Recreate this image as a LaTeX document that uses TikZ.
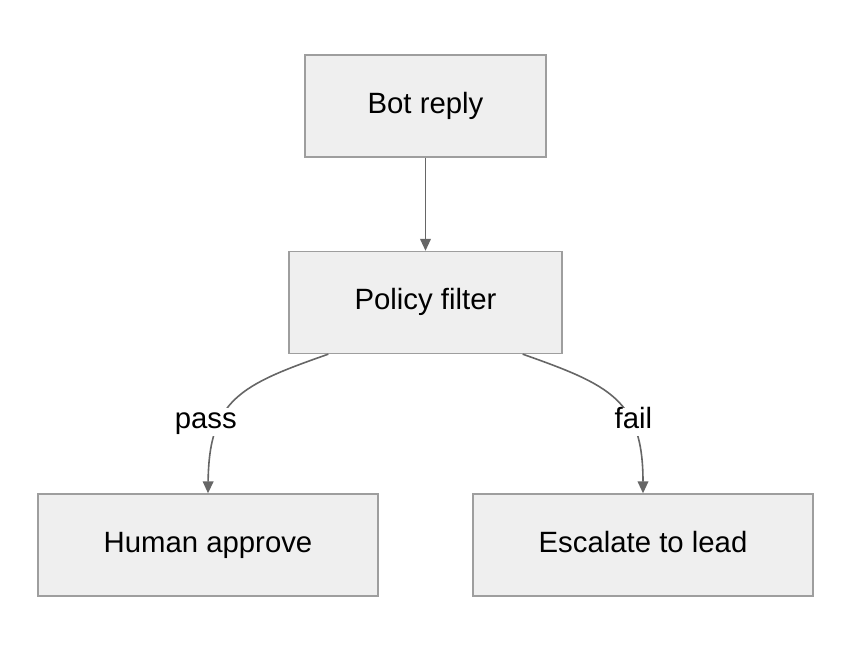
\documentclass[tikz,border=0pt]{standalone}
\usepackage{fontspec}
\setmainfont{Liberation Sans}
\usetikzlibrary{arrows.meta}

\definecolor{boxfill}{HTML}{EFEFEF}
\definecolor{boxline}{HTML}{9E9E9E}
\definecolor{edgeline}{HTML}{666666}

\tikzset{
    box/.style={draw=boxline, fill=boxfill, line width=1pt, inner sep=0pt,
        minimum height=76.5pt, text height=15pt, text depth=4pt,
        font=\fontsize{22}{26}\selectfont},
    edge/.style={draw=edgeline, line width=1.2pt, -{Triangle[length=9pt,width=8pt]}},
    lbl/.style={fill=white, inner sep=1pt, text height=15pt, text depth=4pt,
        font=\fontsize{22}{26}\selectfont}
}

\begin{document}
\begin{tikzpicture}[x=0.75pt, y=-0.75pt]
\useasboundingbox (0,0) rectangle (850,652);

\node[box, minimum width=180.75pt] (bot) at (425.5,106) {Bot reply};
\node[box, minimum width=204.75pt] (pf) at (425.5,302.5) {Policy filter};
\node[box, minimum width=255pt] (ha) at (208,545) {Human approve};
\node[box, minimum width=255pt] (esc) at (643,545) {Escalate to lead};

\draw[edge] (bot) -- (pf);
\draw[edge] (pf.208.6) .. controls (240,385) and (209,400) .. node[lbl, pos=0.66, xshift=-11pt] {pass} (ha.north);
\draw[edge] (pf.-28.6) .. controls (610,385) and (643,400) .. node[lbl, pos=0.66, xshift=2pt] {fail} (esc.north);

\end{tikzpicture}
\end{document}
